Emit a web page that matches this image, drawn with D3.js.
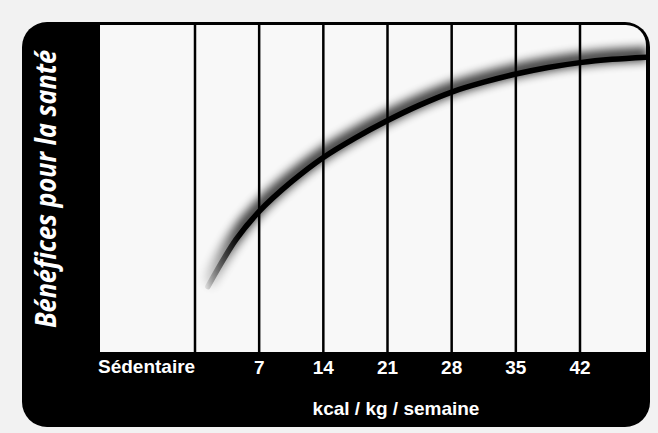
<!DOCTYPE html>
<head>
  <meta charset="utf-8">
  <script src="https://d3js.org/d3.v7.min.js"></script>
  <style>
    body {
        margin: 0;
        background-color: #f2f2f2;
    }
    text {
        fill: white;
    }
    .tick-label {
        font-family: "Liberation Sans", Arial, sans-serif;
        font-weight: bold;
        font-size: 19px;
    }
    .x-title {
        font-family: "Liberation Sans", Arial, sans-serif;
        font-weight: bold;
        font-size: 19px;
    }
    .y-title {
        font-family: "Open Sans", sans-serif;
        font-weight: bold;
        font-style: italic;
        font-size: 28px;
    }
</style>

<body>
  <script>

    // values
    const kcal =    [1.4, 4.5, 7, 10.5, 14, 17.5, 21, 24.5, 28, 31.5, 35, 38.5, 42, 45.5, 49.5];
    const benefit = [20, 34.5, 43, 52, 59.5, 65.5, 70.8, 75.5, 79.5, 82.5, 85, 87, 88.5, 89.5, 90.2];
    const gridValues = [0, 7, 14, 21, 28, 35, 42];
    const tickValues = [7, 14, 21, 28, 35, 42];
    const firstLabel = "Sédentaire";
    const xTitle = "kcal / kg / semaine";
    const yTitle = "Bénéfices pour la santé";

    const width = 658, height = 433;
    const frame = {left: 22, top: 22, right: 650, bottom: 427, radius: 25};
    const plot = {left: 100, top: 25, right: 646, bottom: 352, radius: 20};

    const svg = d3.select("body").append("svg")
        .attr("width", width)
        .attr("height", height);

    const x = d3.scaleLinear().domain([0, 42]).range([195, 580]);
    const y = d3.scaleLinear().domain([0, 100]).range([plot.bottom, plot.top]);

    const defs = svg.append("defs");
    defs.append("filter")
        .attr("id", "glow")
        .attr("x", "-20%").attr("y", "-50%")
        .attr("width", "140%").attr("height", "200%")
      .append("feGaussianBlur")
        .attr("stdDeviation", 5);

    const fade = defs.append("linearGradient")
        .attr("id", "fade")
        .attr("gradientUnits", "userSpaceOnUse")
        .attr("x1", x(1.0)).attr("x2", x(5))
        .attr("y1", 0).attr("y2", 0);
    fade.append("stop").attr("offset", 0).attr("stop-color", "#000").attr("stop-opacity", 0.05);
    fade.append("stop").attr("offset", 1).attr("stop-color", "#000").attr("stop-opacity", 1);

    const plotPath = "M" + plot.left + "," + plot.top +
        "H" + (plot.right - plot.radius) +
        "A" + plot.radius + "," + plot.radius + " 0 0 1 " + plot.right + "," + (plot.top + plot.radius) +
        "V" + plot.bottom + "H" + plot.left + "Z";

    defs.append("clipPath")
        .attr("id", "plot-clip")
      .append("path")
        .attr("d", plotPath);

    // black card
    svg.append("rect")
        .attr("x", frame.left)
        .attr("y", frame.top)
        .attr("width", frame.right - frame.left)
        .attr("height", frame.bottom - frame.top)
        .attr("rx", frame.radius)
        .attr("fill", "#000");

    svg.append("path")
        .attr("d", plotPath)
        .attr("fill", "#f8f8f8");

    const data = kcal.map((k, i) => { return {k: k, v: benefit[i]}; });
    const line = d3.line()
        .x(d => { return x(d.k); })
        .y(d => { return y(d.v); })
        .curve(d3.curveCatmullRom.alpha(0.5));

    const g = svg.append("g")
        .attr("clip-path", "url(#plot-clip)");

    g.append("path")
        .datum(data)
        .attr("d", line)
        .attr("transform", "translate(-1,-3)")
        .attr("fill", "none")
        .attr("stroke", "url(#fade)")
        .attr("stroke-width", 14)
        .attr("opacity", 0.75)
        .attr("filter", "url(#glow)");

    g.append("path")
        .datum(data)
        .attr("d", line)
        .attr("fill", "none")
        .attr("stroke", "url(#fade)")
        .attr("stroke-width", 5.5)
        .attr("stroke-linecap", "round");

    g.selectAll(".grid")
        .data(gridValues)
        .enter().append("line")
        .attr("class", "grid")
        .attr("x1", d => { return x(d); })
        .attr("x2", d => { return x(d); })
        .attr("y1", plot.top)
        .attr("y2", plot.bottom)
        .attr("stroke", "#000")
        .attr("stroke-width", 2.5);

    // right border of the plot
    svg.append("line")
        .attr("x1", plot.right + 1.5).attr("x2", plot.right + 1.5)
        .attr("y1", plot.top + plot.radius).attr("y2", plot.bottom)
        .attr("stroke", "#000")
        .attr("stroke-width", 3);

    svg.append("text")
        .attr("class", "tick-label")
        .attr("x", plot.left - 2)
        .attr("y", 373)
        .text(firstLabel);

    svg.selectAll(".tick")
        .data(tickValues)
        .enter().append("text")
        .attr("class", "tick-label")
        .attr("x", d => { return x(d); })
        .attr("y", 374)
        .attr("text-anchor", "middle")
        .text(d => { return d; });

    svg.append("text")
        .attr("class", "x-title")
        .attr("x", 396)
        .attr("y", 415)
        .attr("text-anchor", "middle")
        .text(xTitle);

    svg.append("text")
        .attr("class", "y-title")
        .attr("transform", "translate(56,189) rotate(-90)")
        .attr("text-anchor", "middle")
        .attr("textLength", 278)
        .attr("lengthAdjust", "spacingAndGlyphs")
        .text(yTitle);

  </script>
</body>
